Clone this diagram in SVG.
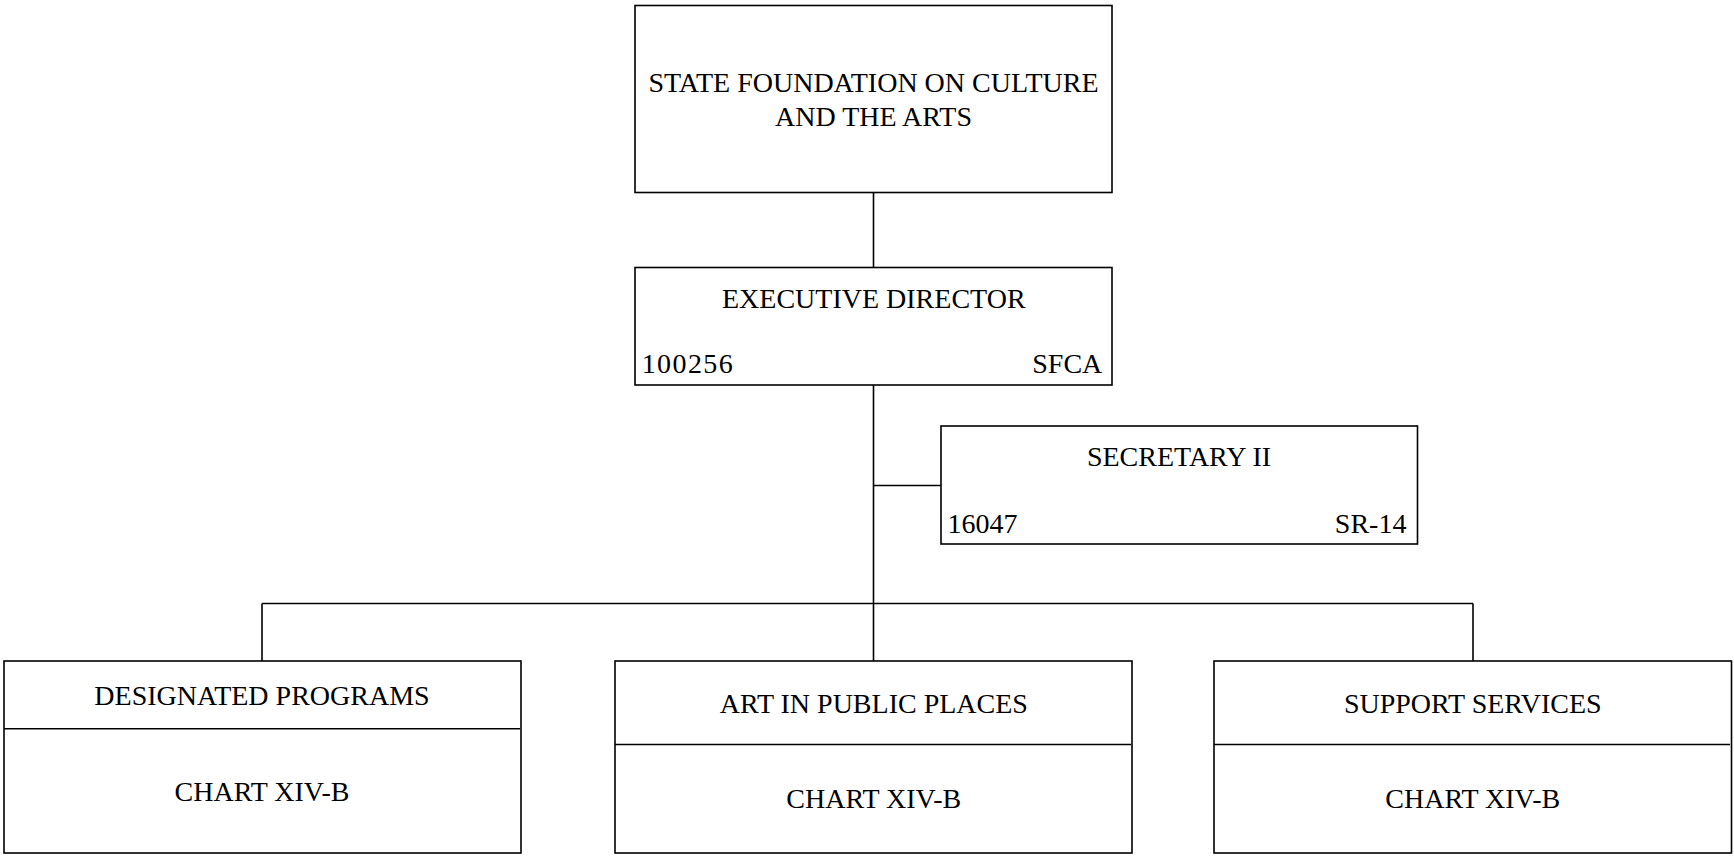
<svg xmlns="http://www.w3.org/2000/svg" width="1734" height="859" viewBox="0 0 1734 859">
<style>
rect.box{fill:#fff;stroke:#000;stroke-width:1.6}
line{stroke:#000;stroke-width:1.6}
text{font-size:28px;fill:#000}
.c{text-anchor:middle}
.r{text-anchor:end}
</style>
<rect width="1734" height="859" fill="#fff"/>
<g id="connectors">
<line x1="873.5" y1="192.5" x2="873.5" y2="267.5"/>
<line x1="873.5" y1="385" x2="873.5" y2="661"/>
<line x1="873.5" y1="485.5" x2="941" y2="485.5"/>
<line x1="262" y1="603.5" x2="1473" y2="603.5"/>
<line x1="262" y1="603.5" x2="262" y2="661"/>
<line x1="1473" y1="603.5" x2="1473" y2="661"/>
</g>
<g font-family="'Liberation Serif', 'Times New Roman', Times, serif">
<g id="foundation">
<rect class="box" x="635" y="5.5" width="477" height="187"/>
<text class="c" x="873.5" y="91.7">STATE FOUNDATION ON CULTURE</text>
<text class="c" x="873.5" y="125.7">AND THE ARTS</text>
</g>
<g id="executive-director">
<rect class="box" x="635" y="267.5" width="477" height="117.5"/>
<text class="c" x="873.8" y="307.7">EXECUTIVE DIRECTOR</text>
<text x="641.7" y="373.3" letter-spacing="1.4">100256</text>
<text class="r" x="1102.3" y="373.3">SFCA</text>
</g>
<g id="secretary">
<rect class="box" x="941" y="426" width="476.5" height="118"/>
<text class="c" x="1179" y="465.7">SECRETARY II</text>
<text x="947.5" y="533.3">16047</text>
<text class="r" x="1406.4" y="533.3">SR-14</text>
</g>
<g id="designated-programs">
<rect class="box" x="4" y="661" width="517" height="192"/>
<line x1="4" y1="728.8" x2="520" y2="728.8"/>
<text class="c" x="262" y="705">DESIGNATED PROGRAMS</text>
<text class="c" x="262" y="800.7">CHART XIV-B</text>
</g>
<g id="art-in-public-places">
<rect class="box" x="615" y="661" width="517" height="192"/>
<line x1="615" y1="744.5" x2="1131" y2="744.5"/>
<text class="c" x="873.8" y="712.7">ART IN PUBLIC PLACES</text>
<text class="c" x="873.8" y="808.3">CHART XIV-B</text>
</g>
<g id="support-services">
<rect class="box" x="1214" y="661" width="517.5" height="192"/>
<line x1="1214" y1="744.5" x2="1730" y2="744.5"/>
<text class="c" x="1472.8" y="712.7">SUPPORT SERVICES</text>
<text class="c" x="1472.8" y="808.3">CHART XIV-B</text>
</g>
</g>
</svg>
